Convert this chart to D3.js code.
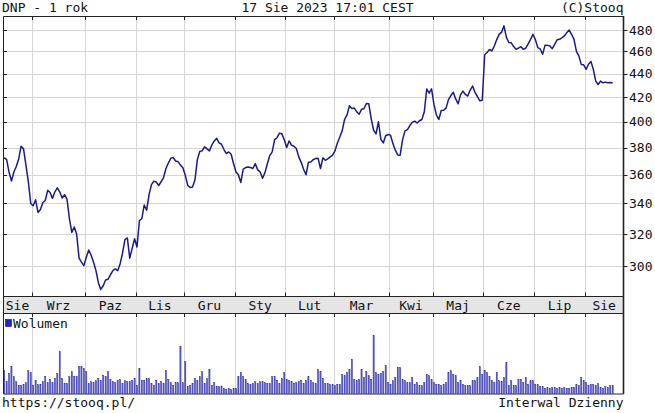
<!DOCTYPE html>
<html>
<head>
<meta charset="utf-8">
<script src="https://cdn.jsdelivr.net/npm/d3@7/dist/d3.min.js"></script>
<style>
body { margin: 0; background: #fff; }
text { font-family: "DejaVu Sans Mono", monospace; font-size: 13px; fill: #111; }
</style>
</head>
<body>
<svg id="chart" width="655" height="413"></svg>
<script>
// month labels under the chart (one per month, trading days)
var months = ["Sie", "Wrz", "Paz", "Lis", "Gru", "Sty", "Lut", "Mar", "Kwi", "Maj", "Cze", "Lip", "Sie"];

// closing prices, DNP, one value per session
var priceAug22 = [372.5, 371, 362, 355.5, 362, 366, 371.5, 381, 379, 367, 355, 340];
var priceSep22 = [338.5, 342.5, 334, 336, 340.5, 342, 349, 347.5, 343.5, 348, 350.8, 348, 343.7, 346, 343, 330, 321, 324.5, 320, 305, 302.6, 300.5];
var priceOct22 = [305.5, 310, 306.8, 302.5, 297.5, 290.5, 286.6, 288.7, 292, 292.5, 295, 297.5, 298.5, 297.5, 301.5, 308, 316.5, 317.5, 305, 311, 317];
var priceNov22 = [311.8, 328.5, 330, 339, 335.5, 346, 353, 355.5, 354.8, 352.4, 355, 358, 364.5, 368.5, 372, 372.5, 370, 369.5, 367, 365];
var priceDec22 = [359.6, 352.5, 351, 351.3, 356.2, 371, 377, 377.5, 380.5, 379, 377.5, 382, 385, 387, 383.5, 382.5, 378.5, 375.5, 376.7, 375, 368];
var priceJan23 = [362, 360, 354.5, 364, 365.2, 365.6, 365.2, 364.5, 368, 363.5, 362, 357.5, 361.5, 368, 374, 376.7, 386, 387.5, 391, 390.5, 386];
var priceFeb23 = [380, 385, 381.8, 381, 379.3, 373, 369, 364, 360, 369, 369.3, 371, 371.8, 372, 364.5, 372.3, 370.5, 371.5, 373, 374.3];
var priceMar23 = [377.5, 383.5, 388, 393, 402, 405.5, 413, 410.7, 411, 408, 406, 410, 410.5, 414.8, 414.5, 402.5, 393.3, 390.5, 400, 386.5, 383.5, 389, 390];
var priceApr23 = [389.5, 383, 378, 374.5, 374.3, 386, 392.8, 393.8, 397, 399.5, 400.5, 399, 400.8, 401.8, 408, 427, 423.5, 427];
var priceMay23 = [414, 405.5, 401.8, 409, 409.3, 411, 418, 421.4, 424.2, 418.6, 414.5, 422, 425.1, 422.3, 421, 426, 429.4, 424, 420.6, 417, 417.5];
var priceJun23 = [457, 459, 461.8, 460.5, 465, 471, 475.9, 478, 484, 473, 468.3, 468, 464.5, 462, 463, 464.4, 462, 463, 467, 471.2, 476];
var priceJul23 = [471, 463.5, 462.3, 457.4, 465.6, 465.6, 465, 462.5, 466.5, 470.8, 471.2, 472.7, 474.4, 477.5, 480, 476, 471.2, 460, 456, 448.3, 448];
var priceAug23 = [443.9, 448.5, 451, 443.9, 433.7, 430.8, 433.7, 432.2, 432.8, 432.2, 432.5, 432];

// volume (thousands of shares)
var volAug22 = [22.7, 11.7, 20, 27.3, 16.7, 11.7, 8.3, 8.3, 9, 10.7, 22.7, 20.7];
var volSep22 = [8.3, 13.3, 8.7, 9.3, 11.7, 17.3, 10.7, 14, 10.7, 15, 20, 41.7, 15, 10, 10, 16.7, 21.7, 17.3, 16.7, 27.3, 27.3, 25];
var volOct22 = [21.7, 10, 11.7, 10.7, 12.7, 15, 13.3, 18.3, 16.7, 21.7, 14, 11.7, 10.7, 13.3, 14, 10, 12.7, 11.7, 11.7, 13.3, 15];
var volNov22 = [8.3, 25, 13.3, 13.3, 15, 15, 10, 8.3, 13.3, 10, 12, 10, 23.3, 14, 10.7, 8.3, 10.7, 10.7, 46.7, 10.7];
var volDec22 = [31.7, 7.3, 8.3, 10, 15, 13.3, 16.7, 21.7, 10, 15, 24, 8.3, 10.7, 7.3, 6.7, 7.5, 5, 4, 5, 4, 5];
var volJan23 = [5, 17, 20.7, 16.7, 14, 10, 9, 10, 11.7, 10, 11.7, 11.7, 10.7, 10.3, 10, 16.7, 16.7, 13.3, 10, 15, 20.7];
var volFeb23 = [14, 13.3, 11.7, 10.5, 10.7, 11.7, 13.3, 10, 13, 16.7, 13.3, 10.7, 10, 24, 21.7, 15, 10, 10, 8.7, 8.7];
var volMar23 = [7.7, 9.3, 9, 19.3, 17.7, 21, 24.3, 34.3, 14.3, 13.3, 14.3, 24.3, 16, 22, 17.7, 14.3, 57.7, 21, 19.3, 20, 22, 27.7, 11];
var volApr23 = [9.3, 12.7, 16, 26, 26, 14.3, 12.7, 11, 11, 16, 9.3, 11, 7.7, 7.7, 11, 19.3, 17.7, 14];
var volMay23 = [11, 9.3, 9.3, 7.7, 9.3, 11, 21, 22.7, 19.3, 17.7, 11, 13.3, 9.3, 7.7, 8, 7.7, 12.7, 12.7, 16, 26.7, 19.3];
var volJun23 = [22.7, 21, 17, 13.3, 11, 21, 12.7, 12, 16, 31, 7.7, 12.7, 8, 7.7, 14.3, 14.3, 11, 16, 9.3, 12.7, 12.7];
var volJul23 = [9.3, 8.7, 7, 6.7, 5.3, 6, 5.3, 6, 6, 5.3, 6, 5.3, 6, 5.3, 5.3, 6, 6, 9, 7.7, 16, 12.7];
var volAug23 = [11, 8.5, 9.3, 9.3, 7.7, 10, 6.3, 5.3, 6.7, 6, 7.7, 8];

var priceTicks = [300, 320, 340, 360, 380, 400, 420, 440, 460, 480];

var priceMonths = [priceAug22, priceSep22, priceOct22, priceNov22, priceDec22, priceJan23, priceFeb23,
  priceMar23, priceApr23, priceMay23, priceJun23, priceJul23, priceAug23];
var volMonths = [volAug22, volSep22, volOct22, volNov22, volDec22, volJan23, volFeb23,
  volMar23, volApr23, volMay23, volJun23, volJul23, volAug23];

var plotLeft = 3, plotRight = 623.5;
var plotTop = 16, priceBottom = 296.5, bandBottom = 313, volBottom = 394;
var gridColor = "#d6d6d6";
var axisColor = "#222";

// join months into one series
var prices = [];
var volumes = [];
var monthStart = [];
priceMonths.forEach(function(m, k) {
  monthStart.push(prices.length);
  prices = prices.concat(m);
  volumes = volumes.concat(volMonths[k]);
});
monthStart.push(prices.length);

var svg = d3.select("#chart");

var xScale = d3.scaleLinear()
  .domain([0, 257])
  .range([plotLeft, plotRight]);

var yScale = d3.scaleLog()
  .domain([282.6, 493.6])
  .range([priceBottom, plotTop]);

var vScale = d3.scaleLinear()
  .domain([0, 80])
  .range([volBottom - 0.5, bandBottom + 0.5]);

var crisp = function(v) { return Math.round(v) + 0.5; };

// month boundaries (skip the first one, it is the left edge)
var bounds = monthStart.slice(1, months.length);

//Grid

svg.selectAll(".vgrid")
  .data(bounds)
  .enter()
  .append("line")
  .attr("x1", function(d) { return crisp(xScale(d)); })
  .attr("x2", function(d) { return crisp(xScale(d)); })
  .attr("y1", plotTop)
  .attr("y2", priceBottom)
  .attr("stroke", gridColor);

svg.selectAll(".vgrid2")
  .data(bounds)
  .enter()
  .append("line")
  .attr("x1", function(d) { return crisp(xScale(d)); })
  .attr("x2", function(d) { return crisp(xScale(d)); })
  .attr("y1", bandBottom)
  .attr("y2", volBottom)
  .attr("stroke", gridColor);

svg.selectAll(".hgrid")
  .data(priceTicks)
  .enter()
  .append("line")
  .attr("x1", plotLeft)
  .attr("x2", plotRight)
  .attr("y1", function(d) { return crisp(yScale(d)); })
  .attr("y2", function(d) { return crisp(yScale(d)); })
  .attr("stroke", gridColor);

//Price line

svg.append("clipPath")
  .attr("id", "clip")
  .append("rect")
  .attr("x", plotLeft)
  .attr("y", plotTop)
  .attr("width", plotRight - plotLeft)
  .attr("height", priceBottom - plotTop);

var lineGen = d3.line()
  .x(function(d, i) { return xScale(i + 0.5); })
  .y(function(d) { return yScale(d); });

svg.append("path")
  .attr("d", lineGen(prices))
  .attr("clip-path", "url(#clip)")
  .attr("fill", "none")
  .attr("stroke", "#1a1a8c")
  .attr("stroke-width", 1.5)
  .attr("stroke-linejoin", "round");

//Volume bars

svg.selectAll(".vol")
  .data(volumes)
  .enter()
  .append("rect")
  .attr("x", function(d, i) { return xScale(i + 0.5) - 0.6; })
  .attr("y", function(d) { return vScale(d); })
  .attr("width", 1.2)
  .attr("height", function(d) { return vScale(0) - vScale(d); })
  .attr("fill", "#5a5ad8")
  .attr("stroke", "#26268e")
  .attr("stroke-width", 0.4);

//Band with months

svg.append("rect")
  .attr("x", plotLeft)
  .attr("y", priceBottom)
  .attr("width", plotRight - plotLeft)
  .attr("height", bandBottom - priceBottom)
  .attr("fill", "#e5e5e5");

svg.selectAll(".mlabel")
  .data(months)
  .enter()
  .append("text")
  .attr("x", function(d, k) {
    var a = xScale(monthStart[k]);
    var b = k == months.length - 1 ? plotRight : xScale(monthStart[k + 1]);
    if (k == 0) a = plotLeft;
    return (a + b) / 2;
  })
  .attr("y", 310)
  .attr("text-anchor", "middle")
  .text(function(d) { return d; });

//Frame and ticks

var frame = svg.append("g")
  .attr("stroke", axisColor)
  .attr("fill", "none");

frame.append("path")
  .attr("d", "M" + (plotLeft + 0.5) + "," + (plotTop + 0.5) + "H" + plotRight + "V" + volBottom + "H" + (plotLeft + 0.5) + "Z")
  .attr("stroke-width", 1);
frame.append("line")
  .attr("x1", plotRight).attr("x2", plotRight)
  .attr("y1", plotTop).attr("y2", volBottom)
  .attr("stroke-width", 1.6);
frame.append("line")
  .attr("x1", plotLeft).attr("x2", plotRight)
  .attr("y1", priceBottom).attr("y2", priceBottom);
frame.append("line")
  .attr("x1", plotLeft).attr("x2", plotRight)
  .attr("y1", bandBottom + 0.5).attr("y2", bandBottom + 0.5);

bounds.forEach(function(d) {
  var x = crisp(xScale(d));
  frame.append("line").attr("x1", x).attr("x2", x).attr("y1", plotTop).attr("y2", plotTop + 4);
  frame.append("line").attr("x1", x).attr("x2", x).attr("y1", priceBottom - 4).attr("y2", priceBottom);
  frame.append("line").attr("x1", x).attr("x2", x).attr("y1", bandBottom).attr("y2", bandBottom + 4);
});

priceTicks.forEach(function(d) {
  var y = crisp(yScale(d));
  frame.append("line").attr("x1", plotLeft).attr("x2", plotLeft + 4).attr("y1", y).attr("y2", y);
  frame.append("line").attr("x1", plotRight).attr("x2", plotRight + 4).attr("y1", y).attr("y2", y);
});

svg.selectAll(".ylabel")
  .data(priceTicks)
  .enter()
  .append("text")
  .attr("x", 629)
  .attr("y", function(d) { return yScale(d); })
  .attr("dy", "0.36em")
  .text(function(d) { return d; });

//Legend

svg.append("rect")
  .attr("x", 5.5)
  .attr("y", 319.5)
  .attr("width", 6)
  .attr("height", 7)
  .attr("fill", "#2323c8")
  .attr("stroke", "#10106a")
  .attr("stroke-width", 0.6);

svg.append("text")
  .attr("x", 13)
  .attr("y", 328)
  .text("Wolumen");

//Header and footer

svg.append("text").attr("x", 2).attr("y", 12).text("DNP - 1 rok");
svg.append("text").attr("x", 327.5).attr("y", 12).attr("text-anchor", "middle").text("17 Sie 2023 17:01 CEST");
svg.append("text").attr("x", 623.5).attr("y", 12).attr("text-anchor", "end").text("(C)Stooq");
svg.append("text").attr("x", 2).attr("y", 407).text("https://stooq.pl/");
svg.append("text").attr("x", 623.5).attr("y", 407).attr("text-anchor", "end").text("Interwal Dzienny");
</script>
</body>
</html>
